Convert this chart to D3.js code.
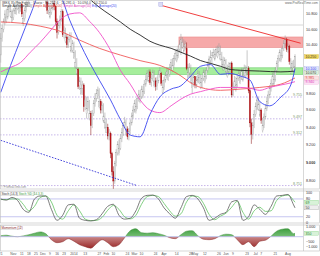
<!DOCTYPE html>
<html><head><meta charset="utf-8">
<script src="https://cdn.jsdelivr.net/npm/d3@7/dist/d3.min.js"></script>
<style>html,body{margin:0;padding:0;background:#fff;overflow:hidden}svg{display:block}</style>
</head><body>
<svg id="chart" width="320" height="256"></svg>
<script>
// ================= DATA =================
const startDate = "2013-10-21";
const openP = [10270,10480,10600,10700,10700,10760,10860,10770,10700,10750,10840,10810,10870,10820,10880,10930,10680,10740,10850,10930,
10990,11060,11100,11140,11110,11170,11200,11150,11180,11120,11090,11130,10900,10960,10850,10760,10820,10880,10940,10900,
10700,10560,10650,10720,10830,10530,10440,10500,10400,10470,10320,10330,10240,10120,10040,10090,9890,9800,9860,9900,
9640,9560,9620,9500,9560,9420,9560,9680,9740,9760,9640,9700,9600,9470,9400,9340,9400,9300,9330,9100,
8900,8800,8990,9110,9100,9160,9270,9340,9420,9320,9380,9290,9350,9450,9530,9600,9580,9640,9740,9700,
9760,9760,9820,9910,9970,9950,10060,9930,9980,9890,9950,9880,9950,10030,10040,9810,9870,9960,10020,9970,
10030,10110,10080,10140,10230,10200,10260,10340,10300,10370,10320,10380,10350,9990,10050,9940,9870,9930,10000,9900,
9960,9930,9870,9930,9980,9940,10000,10080,10140,10200,10240,10260,10220,10280,10250,10310,10220,10150,10090,10150,
10060,10000,10060,10130,10170,9780,9880,9840,9900,9980,9930,9990,9960,10020,10000,10060,10100,9830,9450,9320,
9420,9550,9640,9610,9540,9600,9360,9420,9520,9620,9700,9780,9860,9920,9910,9970,10080,10160,10230,10200,
10260,10350,10420,10470,10340,10380,10050,10110,10060,10120];
const highP = [10550,10650,10740,10850,10870,10900,10950,10930,10860,10880,10960,10940,10980,10970,10960,10950,10830,10880,10970,11040,
11100,11150,11190,11180,11220,11250,11230,11220,11200,11160,11170,11150,11080,10990,10950,10940,10930,10990,10990,10920,
10740,10700,10780,10870,10860,10640,10620,10540,10510,10560,10560,10460,10440,10330,10230,10110,10000,9990,9950,9920,
9770,9760,9760,9720,9590,9600,9720,9800,9850,9880,9860,9730,9700,9680,9570,9500,9440,9380,9350,9120,
8960,9020,9150,9240,9260,9320,9390,9460,9520,9490,9410,9390,9490,9570,9650,9720,9730,9780,9840,9840,
9890,9890,9960,10020,10080,10090,10090,10030,10090,10080,9990,10000,10080,10120,10060,9960,10000,10060,10120,10110,
10160,10220,10230,10270,10340,10350,10390,10460,10540,10500,10470,10450,10430,10160,10170,10150,10050,10040,10010,10010,
10080,10070,10030,10020,10090,10090,10120,10190,10260,10330,10310,10350,10340,10380,10390,10420,10390,10310,10250,10240,
10220,10150,10180,10180,10190,9930,10010,10000,10030,10080,10070,10110,10110,10150,10140,10330,10130,9860,9500,9460,
9600,9690,9760,9750,9700,9620,9510,9560,9670,9760,9830,9900,9970,10050,10060,10120,10200,10270,10340,10340,
10390,10460,10520,10490,10420,10400,10230,10200,10210,10280];
const lowP = [10175,10440,10560,10660,10680,10730,10820,10750,10690,10720,10800,10790,10850,10800,10830,10760,10640,10700,10820,10900,
10960,11020,11070,11060,11080,11140,11100,11110,11080,11040,11050,11010,10880,10800,10790,10740,10790,10850,10850,10650,
10480,10530,10610,10700,10500,10480,10420,10360,10360,10430,10300,10300,10220,10100,10020,9850,9840,9780,9780,9580,
9600,9500,9590,9480,9310,9390,9530,9640,9700,9730,9620,9560,9560,9450,9380,9330,9260,9250,9050,8860,
8710,8770,8960,9080,9080,9140,9230,9300,9390,9300,9260,9250,9320,9420,9500,9570,9560,9610,9700,9680,
9730,9740,9790,9880,9940,9930,9900,9880,9950,9870,9830,9840,9920,9990,9890,9790,9840,9930,9980,9950,
10000,10080,10060,10110,10200,10180,10230,10300,10270,10350,10300,10340,10080,9970,9990,9920,9800,9880,9860,9860,
9930,9910,9850,9860,9950,9920,9970,10050,10100,10150,10160,10230,10200,10250,10230,10280,10200,10130,10070,10090,
10040,9990,10020,10100,9750,9760,9850,9820,9870,9950,9910,9960,9940,9990,9980,10020,9800,9400,9210,9260,
9390,9520,9600,9590,9520,9440,9340,9390,9490,9590,9670,9740,9820,9880,9890,9940,10050,10120,10190,10180,
10230,10320,10380,10310,10300,10150,10030,10070,10040,10090];
const closeP = [10485,10610,10700,10800,10760,10860,10900,10830,10760,10840,10900,10870,10930,10880,10920,10800,10740,10850,10930,10990,
11060,11100,11140,11110,11170,11200,11150,11180,11120,11090,11130,11060,10960,10850,10900,10820,10880,10940,10900,10700,
10560,10650,10720,10830,10530,10580,10500,10400,10470,10520,10380,10420,10300,10180,10100,9880,9950,9860,9900,9640,
9720,9620,9700,9560,9420,9560,9680,9740,9800,9840,9700,9600,9650,9530,9460,9400,9300,9330,9100,8900,
8800,8990,9110,9200,9160,9270,9340,9420,9460,9380,9290,9350,9450,9530,9600,9680,9640,9740,9790,9760,
9850,9820,9910,9970,10040,10010,9930,9980,10050,9950,9880,9950,10030,10080,9920,9870,9960,10020,10070,10030,
10110,10180,10140,10230,10290,10260,10340,10410,10470,10430,10380,10410,10100,10050,10120,10000,9930,9990,9900,9960,
10040,9990,9930,9980,10050,10000,10080,10140,10220,10240,10260,10300,10280,10340,10310,10370,10280,10210,10150,10200,
10120,10060,10130,10160,9780,9880,9950,9900,9980,10040,9990,10070,10020,10100,10060,10120,9830,9450,9320,9420,
9550,9640,9720,9670,9600,9480,9420,9520,9620,9700,9780,9860,9920,10010,9970,10080,10160,10230,10300,10260,
10350,10420,10470,10340,10380,10190,10110,10160,10120,10250];

const maIdx = [0,7,14,21,28,35,42,49,56,63,70,78,85,92,99,106,113,121,128,135,142,149,156,163,170,177,184,191,199,206,209];
const ema20 = [9810,10140,10460,10785,11090,11150,11060,10720,10430,10180,9960,9720,9490,9310,9290,9550,9755,9850,9890,10010,10130,10150,10030,10040,10010,9960,9700,9650,9755,9900,10100];
const sma50 = [10060,10115,10175,10305,10430,10575,10720,10800,10815,10705,10560,10330,10080,9910,9720,9600,9570,9650,9730,9790,9820,9850,9870,9870,9870,9860,9835,9870,9900,9925,9940];
const sma100Idx = [0,14,28,42,56,70,85,99,113,121,128,135,142,156,170,184,199,209];
const sma100 = [10695,10680,10640,10575,10460,10355,10270,10200,10140,10080,10010,9925,9870,9835,9850,9870,9910,9985];
const sma200Idx = [62,70,78,85,92,99,106,113,121,128,135,142,149,156,163,170,184,199,209];
const sma200 = [11020,10890,10785,10695,10600,10525,10445,10395,10355,10305,10255,10200,10165,10130,10090,10080,10070,10060,10070];

const oscIdx = [0,4,8,12,16,20,24,28,32,36,40,44,48,52,56,60,64,68,72,76,80,84,88,92,96,100,104,108,112,116,120,124,128,132,136,140,144,148,152,156,160,164,168,172,176,180,184,188,192,196,200,204,208,209];
const stochK = [80,76,85,75,45,35,80,90,90,45,8,25,60,62,15,8,6,10,30,55,62,25,12,15,40,82,92,93,80,50,30,15,50,88,92,80,50,8,15,28,35,70,75,8,20,60,45,28,55,90,92,95,60,50];
const stochD = [78,78,80,80,62,40,55,85,90,70,25,12,40,60,40,12,7,8,18,42,58,45,20,13,25,62,88,92,88,65,40,22,30,70,90,88,65,28,10,22,32,52,72,35,12,40,52,38,40,75,90,93,75,69];
const momentum = [100,150,50,0,80,200,350,480,300,-300,-600,-500,-200,-450,-800,-1000,-1150,-700,-300,-600,-1000,-800,-100,600,800,400,350,400,300,150,-100,-200,200,550,600,100,-250,-300,-200,100,250,200,-300,-800,-500,-1000,-450,-350,50,550,750,800,300,350];

const priceTicks = [8800,9000,9200,9400,9600,9800,10400,10600,10800];
const stochTicks = [0,20,50,80,100];
const momTicks = [-1000,-500,1000];
const fibLevels = [9755,9497,9312,8751];
const supportBand = [10030,10110];
const resistBox = [128,10365,10500];
const grayLevels = [10655,10375];
const trendDown = [[113,10920],[213,10420]];
const trendLow = [[0,9250],[97,8750]];
const xTicks = [["2013-10-21","21"],["2013-11-01","Nov"],["2013-11-11","11"],["2013-11-18","18"],["2013-11-25","25"],["2013-12-02","Dec"],["2013-12-09","9"],["2013-12-16","16"],["2013-12-23","23"],["2014-01-01","2014"],["2014-01-13","13"],["2014-01-27","27"],["2014-02-03","Feb"],["2014-02-10","10"],["2014-02-24","24"],["2014-03-03","Mar"],["2014-03-10","10"],["2014-03-24","24"],["2014-04-01","Apr"],["2014-04-14","14"],["2014-04-28","28"],["2014-05-01","May"],["2014-05-12","12"],["2014-05-26","26"],["2014-06-02","Jun"],["2014-06-09","9"],["2014-06-23","23"],["2014-07-01","Jul"],["2014-07-07","7"],["2014-07-21","21"],["2014-08-01","Aug"]];

// ================= SETUP =================
const svg = d3.select("#chart");
const FONT = "'Liberation Sans', Arial, sans-serif";
const plotR = 303;
const mainTop = 0, mainBot = 189;
const stTop = 191, stBot = 223;
const mTop = 225, mBot = 251;

const days = [];
{ let d = new Date(startDate + "T12:00:00Z");
  while (days.length < closeP.length) { const w = d.getUTCDay(); if (w !== 0 && w !== 6) days.push(d.toISOString().slice(0,10)); d = new Date(d.getTime() + 86400000); } }
const idxOf = s => { let k = days.findIndex(v => v >= s); return k < 0 ? days.length - 1 : k; };

const x = d3.scaleLinear().domain([0, 209]).range([0.7, 295]);
const y = d3.scaleLog().domain([8800, 10800]).range([181, 14]);
const yS = d3.scaleLinear().domain([0, 100]).range([222.7, 193]);
const yM = d3.scaleLinear().domain([-1000, 1000]).range([246.7, 226.7]);
const es = d3.formatLocale({decimal: ",", thousands: ".", grouping: [3], currency: ["", ""]});
const fmt = es.format(",d");

const defs = svg.append("defs");
function clip(id, x0, y0, w, h) { defs.append("clipPath").attr("id", id).append("rect").attr("x", x0).attr("y", y0).attr("width", w).attr("height", h); }
clip("cMain", 0, mainTop, plotR, mainBot - mainTop);
clip("cSt", 0, stTop, plotR, stBot - stTop);
clip("cMpos", 0, mTop, plotR, yM(0) - mTop);
clip("cMneg", 0, yM(0), plotR, mBot - yM(0));
function grad(id, c1, c2, up) {
  const g = defs.append("linearGradient").attr("id", id).attr("x1", 0).attr("x2", 0).attr("y1", 0).attr("y2", 1);
  g.append("stop").attr("offset", "0%").attr("stop-color", up ? c1 : c2);
  g.append("stop").attr("offset", "100%").attr("stop-color", up ? c2 : c1);
}
grad("gPos", "#3f9f3f", "#c8ecc8", true);
grad("gNeg", "#9a2a2a", "#ecc8c8", false);

svg.append("rect").attr("width", 320).attr("height", 256).attr("fill", "#fff");

// ================= MAIN PANEL =================
const gm = svg.append("g").attr("clip-path", "url(#cMain)");
grayLevels.forEach(v => gm.append("line").attr("x1", 0).attr("x2", plotR).attr("y1", y(v)).attr("y2", y(v)).attr("stroke", "#d6d6d6").attr("stroke-width", 1));
gm.append("rect").attr("x", 0).attr("width", plotR).attr("y", y(supportBand[1])).attr("height", y(supportBand[0]) - y(supportBand[1]))
  .attr("fill", "#a6ee9c").attr("stroke", "#66cc66").attr("stroke-width", 0.6);
gm.append("rect").attr("x", x(resistBox[0]) - 2).attr("width", plotR - x(resistBox[0]) + 2).attr("y", y(resistBox[2])).attr("height", y(resistBox[1]) - y(resistBox[2]))
  .attr("fill", "#f6a9a9").attr("stroke", "#e88080").attr("stroke-width", 0.5);
fibLevels.forEach(v => gm.append("line").attr("x1", 0).attr("x2", plotR).attr("y1", y(v)).attr("y2", y(v))
  .attr("stroke", "#b9a3e3").attr("stroke-width", 0.8).attr("stroke-dasharray", "1.5,1.5"));

const candles = d3.range(closeP.length).map(i => ({i, o: openP[i], h: highP[i], l: lowP[i], c: closeP[i]}));
gm.selectAll("line.wick").data(candles).join("line").attr("class", "wick")
  .attr("x1", d => x(d.i)).attr("x2", d => x(d.i)).attr("y1", d => y(d.h)).attr("y2", d => y(d.l))
  .attr("stroke", d => d.c >= d.o ? "#9a9a9a" : "#8e1b1b").attr("stroke-width", 0.55);
gm.selectAll("rect.body").data(candles).join("rect").attr("class", "body")
  .attr("x", d => x(d.i) - 0.55).attr("width", 1.1)
  .attr("y", d => y(Math.max(d.o, d.c))).attr("height", d => Math.max(0.6, Math.abs(y(d.o) - y(d.c))))
  .attr("fill", d => d.c >= d.o ? "#ffffff" : "#c0141c")
  .attr("stroke", d => d.c >= d.o ? "#9a9a9a" : "#a01010").attr("stroke-width", 0.35);

function maLine(idx, vals, color, w) {
  const pts = idx.map((k, j) => [x(k), y(vals[j])]);
  gm.append("path").attr("d", d3.line().curve(d3.curveMonotoneX)(pts)).attr("fill", "none").attr("stroke", color).attr("stroke-width", w);
}
maLine(sma100Idx, sma100, "#f05a5a", 0.9);
maLine(maIdx, sma50, "#f04fc8", 0.9);
maLine(sma200Idx, sma200, "#222222", 0.9);
maLine(maIdx, ema20, "#3b46f0", 0.9);

gm.append("line").attr("x1", x(trendDown[0][0])).attr("y1", y(trendDown[0][1])).attr("x2", x(trendDown[1][0])).attr("y2", y(trendDown[1][1]))
  .attr("stroke", "#ee2a2a").attr("stroke-width", 0.9);
gm.append("line").attr("x1", x(trendLow[0][0])).attr("y1", y(trendLow[0][1])).attr("x2", x(trendLow[1][0])).attr("y2", y(trendLow[1][1]))
  .attr("stroke", "#3535d8").attr("stroke-width", 0.9).attr("stroke-dasharray", "1.6,1.4");
gm.append("rect").attr("x", x(trendDown[0][0]) - 1).attr("y", y(trendDown[0][1]) - 2.5).attr("width", 4).attr("height", 4)
  .attr("fill", "#dcdcf6").attr("stroke", "#a0a0e0").attr("stroke-width", 0.4);

fibLevels.forEach(v => svg.append("text").attr("x", plotR - 1).attr("y", y(v) - 0.8).attr("text-anchor", "end")
  .attr("font-family", FONT).attr("font-size", 3.6).attr("fill", "#7a9a6a").text(fmt(v)));

svg.append("text").attr("x", 2).attr("y", 3.6).attr("font-family", FONT).attr("font-size", 3.4).attr("fill", "#444")
  .text("IBEX 35 Pro Forex · Diario · 10.252,6 · 10.281,0 · 10.094,0 · 10.250,0");
const leg = svg.append("text").attr("x", 2).attr("y", 7.4).attr("font-family", FONT).attr("font-size", 3.2);
[["Simple Average(200)  ", "#333"], ["Simple Average(100)  ", "#e04848"], ["Simple Average(50)  ", "#e040b8"], ["Exp. Average(20)", "#3b46f0"]]
  .forEach(([t, c]) => leg.append("tspan").attr("fill", c).text(t));
svg.append("text").attr("x", 318).attr("y", 3.5).attr("text-anchor", "end").attr("font-family", FONT).attr("font-size", 3.2).attr("fill", "#666").text("www.ProRealTime.com");
svg.append("text").attr("x", 1).attr("y", 188).attr("font-family", FONT).attr("font-size", 2.8).attr("fill", "#888").text("© ProRealTime.com");

// ================= STOCHASTIC =================
const gs = svg.append("g").attr("clip-path", "url(#cSt)");
[20, 80].forEach(v => gs.append("line").attr("x1", 0).attr("x2", plotR).attr("y1", yS(v)).attr("y2", yS(v)).attr("stroke", "#b8b8ee").attr("stroke-width", 0.8));
const oscLine = (vals, sc) => d3.line().curve(d3.curveMonotoneX)(oscIdx.map((k, j) => [x(k), sc(vals[j])]));
gs.append("path").attr("d", oscLine(stochD, yS)).attr("fill", "none").attr("stroke", "#63c463").attr("stroke-width", 0.8);
gs.append("path").attr("d", oscLine(stochK, yS)).attr("fill", "none").attr("stroke", "#5a5a5a").attr("stroke-width", 0.8);
svg.append("rect").attr("x", 0.5).attr("y", stTop + 0.8).attr("width", 34).attr("height", 4).attr("fill", "#fff").attr("stroke", "#aaa").attr("stroke-width", 0.3);
svg.append("text").attr("x", 1.5).attr("y", stTop + 3.8).attr("font-family", FONT).attr("font-size", 3).attr("fill", "#333")
  .text("Stoch (14,3)").append("tspan").attr("fill", "#3a9a3a").text(" Stoch %D (14,3,3)");

// ================= MOMENTUM =================
const mPts = oscIdx.map((k, j) => [x(k), momentum[j]]);
const ar = d3.area().curve(d3.curveMonotoneX).x(d => d[0]).y0(yM(0)).y1(d => yM(d[1]));
const ln = d3.line().curve(d3.curveMonotoneX).x(d => d[0]).y(d => yM(d[1]));
svg.append("g").attr("clip-path", "url(#cMpos)").call(g => {
  g.append("path").attr("d", ar(mPts)).attr("fill", "url(#gPos)");
  g.append("path").attr("d", ln(mPts)).attr("fill", "none").attr("stroke", "#3a8a3a").attr("stroke-width", 0.5);
});
svg.append("g").attr("clip-path", "url(#cMneg)").call(g => {
  g.append("path").attr("d", ar(mPts)).attr("fill", "url(#gNeg)");
  g.append("path").attr("d", ln(mPts)).attr("fill", "none").attr("stroke", "#8a2a2a").attr("stroke-width", 0.5);
});
svg.append("line").attr("x1", 0).attr("x2", plotR).attr("y1", yM(0)).attr("y2", yM(0)).attr("stroke", "#b8b8ee").attr("stroke-width", 0.8);
svg.append("rect").attr("x", 0.5).attr("y", mTop + 0.8).attr("width", 20).attr("height", 4).attr("fill", "#fff").attr("stroke", "#aaa").attr("stroke-width", 0.3);
svg.append("text").attr("x", 1.5).attr("y", mTop + 3.8).attr("font-family", FONT).attr("font-size", 3).attr("fill", "#8a2a2a").text("Momentum (12)");

// ================= FRAMES =================
const frame = (y0, y1) => svg.append("rect").attr("x", 0.5).attr("y", y0).attr("width", 319).attr("height", y1 - y0).attr("fill", "none").attr("stroke", "#bdbdbd").attr("stroke-width", 0.6);
frame(mainTop + 0.3, mainBot); frame(stTop, stBot); frame(mTop, mBot);
svg.append("line").attr("x1", plotR + 0.5).attr("x2", plotR + 0.5).attr("y1", 0).attr("y2", mBot).attr("stroke", "#bdbdbd").attr("stroke-width", 0.6);

// ================= AXES (right) =================
const axisTxt = (yy, t, c, bold) => svg.append("text").attr("x", 306).attr("y", yy + 1.3).attr("font-family", FONT).attr("font-size", 3.7)
  .attr("fill", c || "#333").attr("font-weight", bold ? "bold" : null).text(t);
priceTicks.forEach(v => axisTxt(y(v), fmt(v), "#333", v === 9000));
stochTicks.forEach(v => axisTxt(yS(v), fmt(v)));
momTicks.forEach(v => axisTxt(yM(v), fmt(v)));

function tags(list) {
  list.sort((a, b) => a.y - b.y);
  for (let k = 1; k < list.length; k++) if (list[k].y - list[k - 1].y < 4.2) list[k].y = list[k - 1].y + 4.2;
  list.forEach(t => {
    svg.append("rect").attr("x", 304.5).attr("y", t.y - 2).attr("width", 14).attr("height", 4).attr("fill", t.bg).attr("stroke", t.bd).attr("stroke-width", 0.3);
    svg.append("text").attr("x", 305.5).attr("y", t.y + 1.3).attr("font-family", FONT).attr("font-size", 3.5).attr("fill", t.fg).text(t.txt);
  });
}
tags([
  {y: y(closeP[209]), txt: fmt(closeP[209]), bg: "#f3d85a", bd: "#c8a820", fg: "#333"},
  {y: y(ema20[ema20.length - 1]), txt: fmt(ema20[ema20.length - 1]), bg: "#e4e6fb", bd: "#9aa0ee", fg: "#3b46f0"},
  {y: y(sma200[sma200.length - 1]), txt: fmt(sma200[sma200.length - 1]), bg: "#dff0dc", bd: "#99c099", fg: "#333"},
  {y: y(sma100[sma100.length - 1]), txt: fmt(sma100[sma100.length - 1]), bg: "#fbe4e4", bd: "#ee9a9a", fg: "#e04848"},
  {y: y(sma50[sma50.length - 1]), txt: fmt(sma50[sma50.length - 1]), bg: "#fbe2f4", bd: "#ee9ad8", fg: "#e040b8"}
]);
tags([
  {y: yS(stochD[stochD.length - 1]), txt: fmt(stochD[stochD.length - 1]), bg: "#d8f2d8", bd: "#7c7", fg: "#2a7a2a"},
  {y: yS(stochK[stochK.length - 1]), txt: fmt(stochK[stochK.length - 1]), bg: "#eeeeee", bd: "#999", fg: "#333"}
]);
tags([{y: yM(momentum[momentum.length - 1]), txt: fmt(momentum[momentum.length - 1]), bg: "#d8f2d8", bd: "#7c7", fg: "#2a7a2a"}]);

// ================= X AXIS =================
xTicks.forEach(([d, t]) => svg.append("text").attr("x", x(idxOf(d))).attr("y", 254.6).attr("text-anchor", "middle")
  .attr("font-family", FONT).attr("font-size", 3.4).attr("fill", "#555").text(t));
</script>
</body></html>
